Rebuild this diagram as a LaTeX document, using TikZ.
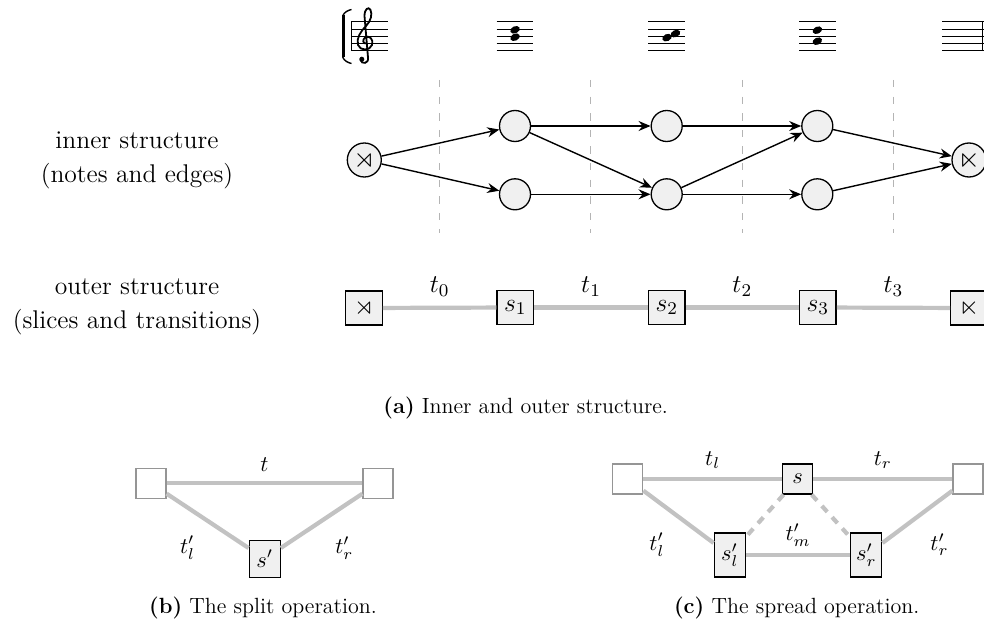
\RequirePackage{fix-cm}
\documentclass[tikz,border=0pt]{standalone}
\usepackage{amssymb}
\usetikzlibrary{arrows.meta}

\definecolor{cellfill}{HTML}{F0F0F0}
\definecolor{transgray}{HTML}{C2C2C2}
\definecolor{guidegray}{HTML}{B4B4B4}
\definecolor{framegray}{HTML}{959595}

\newcommand\panelafont{\fontsize{12.8}{17}\selectfont}
\newcommand\panelbcfont{\fontsize{11.2}{13}\selectfont}
\newcommand\captfont{\fontsize{11}{13}\selectfont}

\tikzset{
  note/.style={circle, draw=black, fill=cellfill, line width=0.65pt,
    minimum size=15.5pt, inner sep=0pt},
  terminal/.style={note, minimum size=17pt, font=\fontsize{14}{14}\selectfont},
  slicebox/.style={rectangle, draw=black, fill=cellfill, line width=0.65pt,
    inner sep=0pt},
  outerbox/.style={slicebox, minimum width=18.3pt, minimum height=17pt, font=\panelafont},
  emptybox/.style={rectangle, draw=framegray, fill=white, line width=0.6pt,
    minimum width=15pt, minimum height=15pt, inner sep=0pt},
  flow/.style={-{Stealth[length=6pt,width=5pt,inset=2pt]}, line width=0.7pt},
  trans/.style={draw=transgray, line width=2.1pt},
  transdash/.style={trans, dash pattern=on 4pt off 3.6pt},
  guide/.style={draw=guidegray, line width=0.6pt, dash pattern=on 3.7pt off 4.6pt},
  staffline/.style={line width=0.5pt},
  lbl/.style={inner sep=0pt},
}

\begin{document}
\begin{tikzpicture}[x=0.5pt, y=-0.5pt]
\useasboundingbox (0,0) rectangle (984,626);

% ---------------- staves ----------------
\foreach \y in {22,29.25,36.5,43.75,51} {
  \draw[staffline] (351,\y) -- (388,\y);
  \draw[staffline] (496.7,\y) -- (533.3,\y);
  \draw[staffline] (648.3,\y) -- (684.7,\y);
  \draw[staffline] (799,\y) -- (835.7,\y);
  \draw[staffline] (942.3,\y) -- (984,\y);
}
% system bracket and opening barline
\draw[staffline] (351,22) -- (351,51);
\draw[line width=1.5pt] (343.5,15.5) -- (343.5,57.5);
\draw[line width=0.7pt] (342.6,16) .. controls (344.5,12) and (347.5,10.5) .. (351.5,9.5);
\draw[line width=0.7pt] (342.6,57) .. controls (344.5,61) and (347.5,62.5) .. (351.5,63.5);
% closing barline
\draw[line width=0.8pt] (982.5,22) -- (982.5,51);
% treble clef
\draw[line width=0.9pt, line cap=round]
  (366.5,43.5) .. controls (363,44) and (362,40) .. (365,37.5)
  .. controls (369,35) and (374,39) .. (372,45)
  .. controls (370,51) and (360,51) .. (358,45)
  .. controls (356,38) and (361,31) .. (366,26)
  .. controls (371,21) and (372.5,14) .. (370.5,10)
  .. controls (368.5,6) and (364.5,9) .. (364.5,16)
  -- (368,57.5)
  .. controls (369,64) and (361.5,64.5) .. (360.5,60);
\fill (361.8,59.2) circle[radius=1.25pt];
% note heads
\foreach \nx/\ny in {515/29.8, 515/37.2, 667/37.6, 675.5/33.6, 817.3/30.2, 817.3/41.2} {
  \fill[shift={(\nx,\ny)}, rotate=25] (0,0) ellipse[x radius=2.5pt, y radius=1.75pt];
}

% ---------------- inner structure ----------------
\foreach \gx in {439.3,590.7,742.3,893.3} {
  \draw[guide] (\gx,80) -- (\gx,233);
}
\node[terminal] (st) at (364.3,160) {$\rtimes$};
\node[note] (a1) at (515,126) {};
\node[note] (b1) at (515,194.3) {};
\node[note] (a2) at (666.7,126) {};
\node[note] (b2) at (666.7,194.3) {};
\node[note] (a3) at (817.3,126) {};
\node[note] (b3) at (817.3,194.3) {};
\node[terminal] (en) at (969,160) {$\ltimes$};

\draw[flow] (st) -- (a1);
\draw[flow] (st) -- (b1);
\draw[flow] (a1) -- (a2);
\draw[flow] (a1) -- (b2);
\draw[flow] (b1) -- (b2);
\draw[flow] (a2) -- (a3);
\draw[flow] (b2) -- (a3);
\draw[flow] (b2) -- (b3);
\draw[flow] (a3) -- (en);
\draw[flow] (b3) -- (en);

\node[align=center, font=\panelafont] (innerlbl) at (137,160)
  {inner structure\\(notes and edges)};

% ---------------- outer structure ----------------
\node[outerbox] (o0) at (364,308) {$\rtimes$};
\node[outerbox] (o1) at (515.3,307.5) {$s_1$};
\node[outerbox] (o2) at (666.7,307.5) {$s_2$};
\node[outerbox] (o3) at (817.8,307.5) {$s_3$};
\node[outerbox] (o4) at (969,308) {$\ltimes$};

\begin{scope}[every node/.style={lbl, font=\panelafont}]
\draw[trans] (o0) -- node[yshift=10.5pt] {$t_0$} (o1);
\draw[trans] (o1) -- node[yshift=10.5pt] {$t_1$} (o2);
\draw[trans] (o2) -- node[yshift=10.5pt] {$t_2$} (o3);
\draw[trans] (o3) -- node[yshift=10.5pt] {$t_3$} (o4);
\end{scope}

\node[align=center, font=\panelafont] (outerlbl) at (137,307)
  {outer structure\\(slices and transitions)};

\node[font=\captfont] (capa) at (525.7,408) {\textbf{(a)} Inner and outer structure.};

% ---------------- split ----------------
\node[emptybox] (bl) at (151,483.3) {};
\node[emptybox] (br) at (378,483.3) {};
\node[slicebox, minimum width=15.5pt, minimum height=18.5pt, font=\panelbcfont] (bs) at (264.7,558.7) {$s'$};
\begin{scope}[every node/.style={lbl, font=\panelbcfont}]
\draw[trans] (bl) -- node[yshift=9.3pt] {$t$} (br);
\draw[trans] (bl) -- node[xshift=-10pt, yshift=-13.5pt] {$t'_l$} (bs);
\draw[trans] (bs) -- node[xshift=11.3pt, yshift=-13.5pt] {$t'_r$} (br);
\end{scope}
\node[font=\captfont] (capb) at (263,608) {\textbf{(b)} The split operation.};

% ---------------- spread ----------------
\node[emptybox] (cl) at (627.8,479) {};
\node[emptybox] (cr) at (968,479) {};
\node[slicebox, minimum width=15pt, minimum height=15pt, font=\panelbcfont] (cs) at (797.5,479) {$s$};
\node[slicebox, minimum width=15.5pt, minimum height=22pt, font=\panelbcfont] (csl) at (729.7,555) {$s'_l$};
\node[slicebox, minimum width=15.5pt, minimum height=22pt, font=\panelbcfont] (csr) at (866.3,555) {$s'_r$};
\begin{scope}[every node/.style={lbl, font=\panelbcfont}]
\draw[trans] (cl) -- node[yshift=9.5pt] {$t_l$} (cs);
\draw[trans] (cs) -- node[yshift=9.5pt] {$t_r$} (cr);
\draw[trans] (cl) -- node[xshift=-10.8pt, yshift=-14pt] {$t'_l$} (csl);
\draw[trans] (csr) -- node[xshift=11pt, yshift=-14pt] {$t'_r$} (cr);
\draw[trans] (csl) -- node[yshift=10pt] {$t'_m$} (csr);
\draw[transdash] (cs) -- (csl);
\draw[transdash] (cs) -- (csr);
\end{scope}
\node[font=\captfont] (capc) at (796.7,608) {\textbf{(c)} The spread operation.};
\end{tikzpicture}
\end{document}
